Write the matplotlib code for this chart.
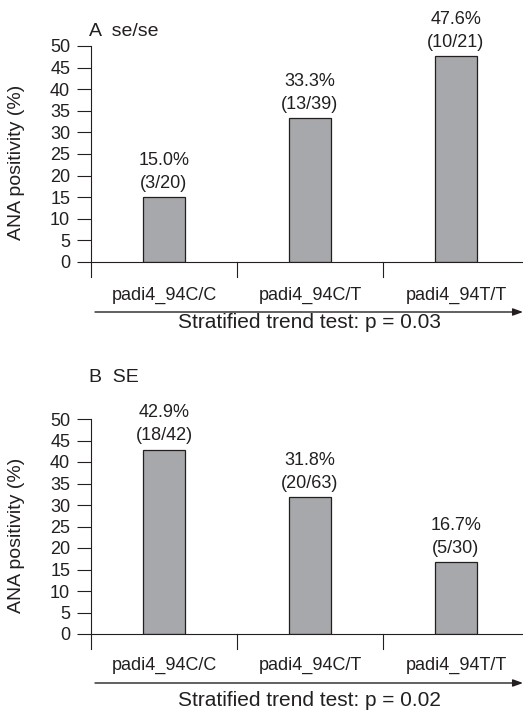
import numpy as np
import matplotlib
matplotlib.use("Agg")
import matplotlib.pyplot as plt

plt.rcParams['font.family'] = ['Liberation Sans', 'DejaVu Sans']

genotypes = ["padi4_94C/C", "padi4_94C/T", "padi4_94T/T"]
yticks = [0, 5, 10, 15, 20, 25, 30, 35, 40, 45, 50]

# panel A: se/se
pct_a = [15.0, 33.3, 47.6]
counts_a = ["(3/20)", "(13/39)", "(10/21)"]
title_a = "A  se/se"
trend_a = "Stratified trend test: p = 0.03"

# panel B: SE
pct_b = [42.9, 31.8, 16.7]
counts_b = ["(18/42)", "(20/63)", "(5/30)"]
title_b = "B  SE"
trend_b = "Stratified trend test: p = 0.02"

W, H = 523, 712
ink = "#231f20"
bar_col = "#a7a8ab"

fig = plt.figure(figsize=(W / 100, H / 100), dpi=100)


def panel(top_px, bottom_px, pct, counts, title, trend, title_y, lab_y, arrow_y, trend_y):
    left_px, right_px = 91, 523
    ax = fig.add_axes([left_px / W, 1 - bottom_px / H,
                       (right_px - left_px) / W, (bottom_px - top_px) / H])
    x = np.arange(len(pct))
    ax.bar(x, pct, width=0.29, color=bar_col, edgecolor=ink, linewidth=0.9, zorder=3)
    ax.set_xlim(-0.5, 2.46)
    ax.set_ylim(0, 50)
    ax.set_yticks(yticks)
    ax.tick_params(axis='y', direction='out', length=10, width=0.8, pad=5,
                   labelsize=13, colors=ink)
    ax.set_xticks([])
    for s in ['top', 'right', 'bottom']:
        ax.spines[s].set_visible(False)
    ax.spines['left'].set_color(ink)
    ax.spines['left'].set_linewidth(0.8)
    # baseline and separators below it
    ax.axhline(0, color=ink, lw=0.8, clip_on=False, zorder=4)
    for sx in [-0.5, 0.5, 1.5]:
        ax.plot([sx, sx], [0, -3.5], color=ink, lw=0.8, clip_on=False)
    # value labels
    for xi, p, c in zip(x, pct, counts):
        ax.annotate(f"{p:.1f}%\n{c}", (xi, p), xytext=(0, 4), textcoords='offset points',
                    ha='center', va='bottom', fontsize=13, color=ink, linespacing=1.45)
    ax.set_ylabel("ANA positivity (%)", fontsize=14, color=ink)
    ax.yaxis.set_label_coords(-0.153, 0.46)
    # category labels
    for xi, g in zip(x, genotypes):
        fig.text((left_px + (xi + 0.5) * 146) / W, 1 - lab_y / H, g,
                 ha='center', va='center', fontsize=13, color=ink)
    fig.text(89 / W, 1 - title_y / H, title, ha='left', va='center', fontsize=14, color=ink)
    ax.annotate("", xy=(1.0, 1 - arrow_y / H), xytext=(95 / W, 1 - arrow_y / H),
                xycoords='figure fraction', textcoords='figure fraction',
                arrowprops=dict(arrowstyle='-|>,head_length=0.6,head_width=0.22',
                                color=ink, lw=1.0, shrinkA=0, shrinkB=0))
    fig.text(309 / W, 1 - trend_y / H, trend, ha='center', va='center',
             fontsize=15, color=ink)
    return ax


panel(46, 262, pct_a, counts_a, title_a, trend_a, 32, 295, 312, 323)
panel(419, 634, pct_b, counts_b, title_b, trend_b, 378, 665, 683, 701)

fig.savefig("out.png", dpi=100)
